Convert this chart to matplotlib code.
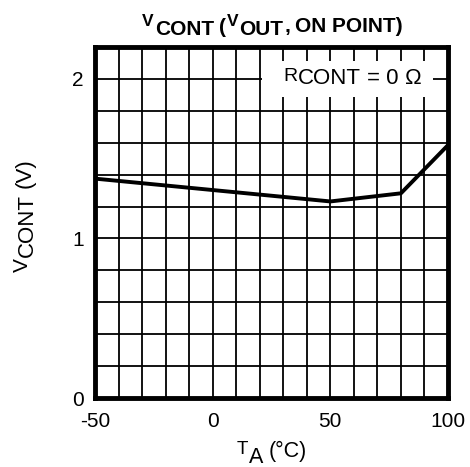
import numpy as np
import matplotlib.pyplot as plt
from matplotlib.patches import Rectangle
from matplotlib.transforms import IdentityTransform

plt.rcParams['font.family'] = ['Liberation Sans', 'DejaVu Sans']
plt.rcParams['axes.unicode_minus'] = False

# courbe V_CONT en fonction de T_A
temp = [-50, 50, 80, 100]
vcont = [1.375, 1.232, 1.283, 1.585]

x_ticks = [-50, 0, 50, 100]
y_ticks = [0, 1, 2]

W, H = 470, 467
fig = plt.figure(figsize=(W / 100, H / 100), dpi=100)
ax = fig.add_axes([95 / W, 69 / H, 353 / W, 351 / H])


def rich(x, y, pieces, weight='normal', rotation=0):
    # texte a indices "facon datasheet" : (texte, taille, decalage, espace)
    # x, y en pixels depuis le coin haut gauche, debut de la ligne de base
    r = fig.canvas.get_renderer()
    pos = 0
    for s, size, dy, gap in pieces:
        pos += gap
        if rotation == 0:
            px, py = x + pos, H - (y + dy)
        else:
            px, py = x + dy, H - (y - pos)
        t = fig.text(px, py, s, transform=IdentityTransform(), fontsize=size,
                     fontweight=weight, ha='left', va='baseline',
                     rotation=rotation, rotation_mode='anchor')
        bb = t.get_window_extent(r)
        pos += bb.width if rotation == 0 else bb.height


ax.set_xlim(-50, 100)
ax.set_ylim(0, 2.2)
ax.set_xticks(x_ticks)
ax.set_yticks(y_ticks)
ax.set_xticks(np.arange(-50, 101, 10), minor=True)
ax.set_yticks(np.arange(0, 2.21, 0.2), minor=True)
ax.tick_params(which='both', length=0, labelsize=15)
ax.tick_params(axis='x', pad=10)
ax.tick_params(axis='y', pad=8)
ax.grid(which='both', color='black', linewidth=1.3)
ax.set_axisbelow(True)

# zone blanche derriere l'etiquette
ax.add_patch(Rectangle((21, 1.887), 72.6, 0.226, facecolor='white',
                       edgecolor='none', zorder=1.5))

ax.plot(temp, vcont, color='black', linewidth=2.8, zorder=3)

for s in ax.spines.values():
    s.set_linewidth(3.5)
    s.set_zorder(4)

# titre
rich(142, 32, [('V', 12.5, -5.5, 0), ('CONT', 15, 3, 1),
               ('(', 15, 1, 5), ('V', 12.5, -5.5, 1), ('OUT', 15, 3, 1),
               (',', 15, 0, 1), ('ON POINT)', 15, 0, 5)], weight='bold')
# etiquette dans le graphe
rich(283, 81, [('R', 14, 0, 0), ('CONT', 16, 3.3, 1),
               ('= 0', 16, 3, 6), ('\u03a9', 16, 3, 6)])
# axe x
rich(237, 453.5, [('T', 13.5, 0, 0), ('A', 15.5, 9.5, 1),
                  ('(°C)', 15.5, 4, 5)])
# axe y
rich(28, 272, [('V', 15, 0, 0), ('CONT', 16, 5, 1), ('(V)', 16, 3, 6)],
     rotation=90)

plt.savefig('out.png', dpi=100)
